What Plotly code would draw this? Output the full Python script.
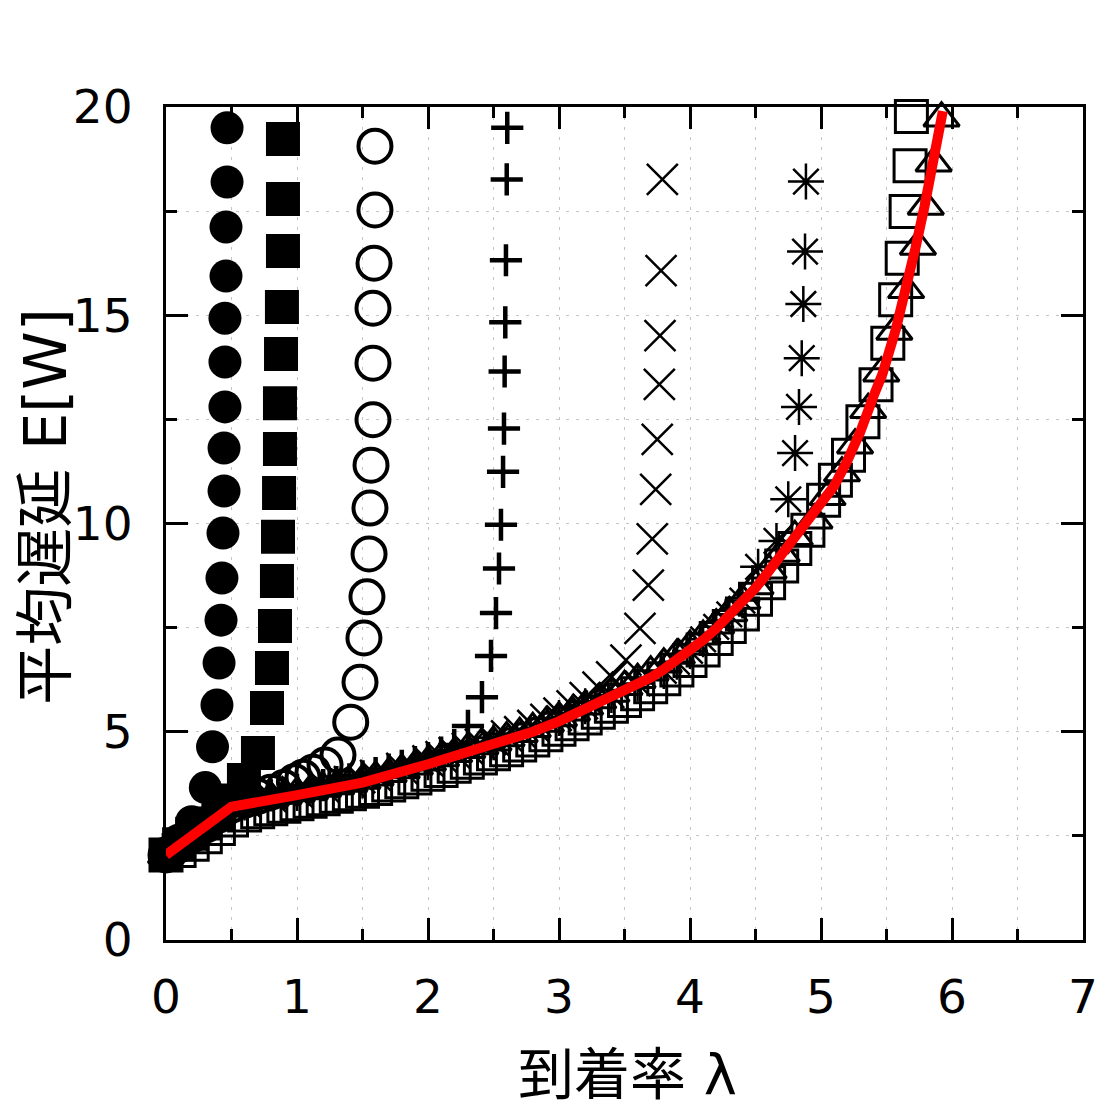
import plotly.graph_objects as go

# ---------------- data ----------------
# filled circles
fc_x = [0.0, 0.1, 0.196, 0.30, 0.355, 0.389, 0.405, 0.42, 0.427, 0.435, 0.443, 0.443, 0.45, 0.45, 0.45, 0.458, 0.458, 0.466, 0.466]
fc_y = [2.04, 2.40, 2.84, 3.66, 4.64, 5.64, 6.65, 7.68, 8.69, 9.77, 10.78, 11.81, 12.80, 13.88, 14.93, 15.94, 17.12, 18.20, 19.50]

# filled squares
fs_x = [0.0, 0.1, 0.2, 0.3, 0.4, 0.5, 0.595, 0.702, 0.771, 0.809, 0.832, 0.847, 0.855, 0.863, 0.870, 0.870, 0.878, 0.885, 0.893, 0.893, 0.893]
fs_y = [2.04, 2.30, 2.55, 2.80, 3.05, 3.35, 3.84, 4.49, 5.57, 6.53, 7.54, 8.62, 9.68, 10.73, 11.79, 12.89, 14.07, 15.20, 16.54, 17.79, 19.23]

# open circles
oc_x = [0.0, 0.1, 0.2, 0.3, 0.4, 0.5, 0.6, 0.7, 0.8, 0.9, 0.98, 1.046, 1.122, 1.214, 1.313, 1.41, 1.481, 1.511, 1.534, 1.55, 1.557, 1.565, 1.58, 1.58, 1.58, 1.588, 1.595, 1.595]
oc_y = [2.04, 2.28, 2.52, 2.76, 3.00, 3.24, 3.36, 3.45, 3.55, 3.66, 3.80, 3.91, 4.03, 4.20, 4.44, 5.23, 6.19, 7.25, 8.24, 9.27, 10.37, 11.40, 12.49, 13.85, 15.17, 16.25, 17.53, 19.06]

# plus
pl_x = [0.0, 0.1, 0.2, 0.3, 0.4, 0.5, 0.6, 0.7, 0.8, 0.9, 1.0, 1.1, 1.2, 1.3, 1.4, 1.5, 1.6, 1.7, 1.8, 1.9, 2.0, 2.1, 2.2, 2.305, 2.412, 2.481, 2.519, 2.542, 2.557, 2.573, 2.58, 2.585, 2.59, 2.595, 2.601, 2.605]
pl_y = [2.04, 2.28, 2.52, 2.76, 3.00, 3.24, 3.33, 3.40, 3.47, 3.53, 3.60, 3.66, 3.72, 3.79, 3.86, 3.93, 4.01, 4.09, 4.18, 4.27, 4.37, 4.50, 4.68, 5.14, 5.83, 6.82, 7.85, 8.92, 9.97, 11.24, 12.28, 13.65, 14.83, 16.32, 18.26, 19.50]

# x (cross)
xx_x = [0.0, 0.2, 0.4, 0.6, 0.8, 1.0, 1.2, 1.4, 1.6, 1.8, 2.0, 2.1, 2.2, 2.3, 2.4, 2.5, 2.6, 2.7, 2.8, 2.9, 3.0, 3.1, 3.2, 3.298, 3.402, 3.511, 3.618, 3.682, 3.712, 3.738, 3.75, 3.766, 3.771, 3.779, 3.789]
xx_y = [2.04, 2.52, 3.00, 3.33, 3.44, 3.56, 3.68, 3.80, 3.95, 4.12, 4.30, 4.40, 4.50, 4.60, 4.70, 4.80, 4.90, 5.00, 5.15, 5.30, 5.45, 5.62, 5.82, 6.07, 6.32, 6.72, 7.48, 8.52, 9.63, 10.82, 12.02, 13.34, 14.51, 16.07, 18.26]

# asterisk
as_x = [0.0, 0.3, 0.6, 1.0, 1.5, 2.0, 2.5, 3.0, 3.2, 3.4, 3.6, 3.8, 3.9, 4.0, 4.1, 4.2, 4.3, 4.4, 4.52, 4.66, 4.75, 4.802, 4.832, 4.853, 4.865, 4.878, 4.885]
as_y = [2.04, 2.76, 3.30, 3.53, 3.83, 4.27, 4.75, 5.33, 5.61, 5.88, 6.16, 6.46, 6.68, 6.94, 7.22, 7.52, 7.82, 8.15, 8.96, 9.58, 10.58, 11.69, 12.80, 13.97, 15.27, 16.53, 18.21]

# open squares
os_x = [0.0, 0.1, 0.2, 0.3, 0.4, 0.5, 0.6, 0.7, 0.8, 0.9, 1.0, 1.1, 1.2, 1.3, 1.4, 1.5, 1.6, 1.7, 1.8, 1.9,
        2.0, 2.1, 2.2, 2.3, 2.4, 2.5, 2.6, 2.7, 2.8, 2.9, 3.0, 3.1, 3.2, 3.3, 3.4, 3.5, 3.6, 3.7, 3.8, 3.9,
        4.0, 4.1, 4.2, 4.3, 4.4, 4.5, 4.6, 4.7, 4.8,
        4.90, 5.02, 5.11, 5.21, 5.32, 5.42, 5.51, 5.57, 5.62, 5.65, 5.68, 5.69]
os_y = [2.04, 2.15, 2.30, 2.48, 2.68, 2.88, 3.00, 3.08, 3.15, 3.21, 3.27, 3.33, 3.39, 3.45, 3.51, 3.57, 3.64, 3.72, 3.80, 3.89,
        3.98, 4.07, 4.17, 4.27, 4.37, 4.47, 4.57, 4.68, 4.80, 4.93, 5.06, 5.19, 5.33, 5.47, 5.61, 5.75, 5.91, 6.08, 6.27, 6.48,
        6.71, 6.96, 7.24, 7.53, 7.83, 8.18, 8.58, 8.98, 9.40,
        9.84, 10.56, 11.04, 11.64, 12.44, 13.33, 14.33, 15.37, 16.37, 17.49, 18.59, 19.77]

# open triangles
ot_x = [0.0, 0.1, 0.2, 0.3, 0.4, 0.5, 0.6, 0.7, 0.8, 0.9, 1.0, 1.1, 1.2, 1.3, 1.4, 1.5, 1.6, 1.7, 1.8, 1.9,
        2.0, 2.1, 2.2, 2.3, 2.4, 2.5, 2.6, 2.7, 2.8, 2.9, 3.0, 3.1, 3.2, 3.3, 3.4, 3.5, 3.6, 3.7, 3.8, 3.9,
        4.0, 4.1, 4.2, 4.3, 4.4, 4.5, 4.6, 4.7, 4.8,
        4.95, 5.05, 5.16, 5.26, 5.36, 5.46, 5.56, 5.65, 5.74, 5.80, 5.86, 5.92]
ot_y = [2.04, 2.30, 2.55, 2.80, 3.02, 3.22, 3.30, 3.36, 3.42, 3.47, 3.53, 3.58, 3.64, 3.70, 3.76, 3.83, 3.91, 3.99, 4.08, 4.17,
        4.27, 4.37, 4.47, 4.57, 4.66, 4.75, 4.85, 4.95, 5.07, 5.20, 5.33, 5.47, 5.61, 5.76, 5.92, 6.08, 6.25, 6.43, 6.62, 6.83,
        7.05, 7.29, 7.56, 7.85, 8.15, 8.50, 8.88, 9.28, 9.68,
        10.08, 10.64, 11.21, 11.88, 12.73, 13.61, 14.61, 15.61, 16.65, 17.61, 18.65, 19.73]

# theoretical curve (red)
red_x = [0.0, 0.5, 1.0, 1.5, 2.0, 2.5, 2.8, 3.0, 3.3, 3.5, 3.6, 3.7, 3.8, 3.9, 4.0, 4.1, 4.2, 4.3, 4.4, 4.5,
         4.6, 4.7, 4.8, 4.9, 5.0, 5.1, 5.2, 5.3, 5.4, 5.47, 5.57, 5.65, 5.72, 5.79, 5.87, 5.93]
red_y = [2.04, 3.20, 3.48, 3.78, 4.22, 4.70, 5.00, 5.25, 5.68, 5.96, 6.12, 6.30, 6.50, 6.72, 6.95, 7.20, 7.48, 7.78, 8.10, 8.45,
         8.85, 9.25, 9.65, 10.05, 10.42, 10.90, 11.50, 12.20, 13.05, 13.60, 14.65, 15.60, 16.60, 17.61, 18.81, 19.90]

x_ticks = [0, 1, 2, 3, 4, 5, 6, 7]
y_ticks = [0, 5, 10, 15, 20]

# ---------------- figure ----------------
fig = go.Figure()

def add(x, y, symbol, size, lw=0):
    fig.add_trace(go.Scatter(
        x=x, y=y, mode="markers", cliponaxis=False, showlegend=False, hoverinfo="skip",
        marker=dict(symbol=symbol, size=size, color="black",
                    line=dict(color="black", width=lw))))

add(fc_x, fc_y, "circle", 33)
add(fs_x, fs_y, "square", 34)
add(oc_x, oc_y, "circle-open", 33, 4)
add(pl_x, pl_y, "cross-thin-open", 23, 4.5)
add(xx_x, xx_y, "x-thin-open", 31, 2.5)
add(as_x, as_y, "asterisk-open", 30, 2.5)
add(os_x, os_y, "square-open", 32, 3)
add(ot_x, ot_y, "triangle-up-open", 31, 3)

fig.add_trace(go.Scatter(x=red_x, y=red_y, mode="lines", cliponaxis=False, showlegend=False, hoverinfo="skip",
                         line=dict(color="#ff0000", width=10)))

grid = dict(gridcolor="#c4c4c4", griddash="3px,7px", gridwidth=1)
tick_font = dict(family="DejaVu Sans, sans-serif", size=47, color="black")
axis_common = dict(
    showline=True, linecolor="black", linewidth=3, mirror="allticks",
    ticks="inside", ticklen=22, tickwidth=3, tickcolor="black",
    showgrid=True, zeroline=False, automargin=False,
    tickfont=tick_font,
    **grid,
)

fig.update_xaxes(range=[0, 7], tickvals=x_ticks, ticktext=[str(v) for v in x_ticks],
                 ticklabelstandoff=14,
                 minor=dict(dtick=0.5, ticks="inside", ticklen=11, tickwidth=3, tickcolor="black",
                            showgrid=True, **grid),
                 **axis_common)
fig.update_yaxes(range=[0, 20], tickvals=y_ticks, ticktext=[str(v) for v in y_ticks],
                 ticklabelstandoff=21,
                 minor=dict(dtick=2.5, ticks="inside", ticklen=11, tickwidth=3, tickcolor="black",
                            showgrid=True, **grid),
                 **axis_common)

fig.add_annotation(text="平均遅延 E[W]", xref="paper", yref="paper", x=-0.131, y=0.52,
                   textangle=-90, showarrow=False,
                   font=dict(family="DejaVu Sans, Noto Sans CJK JP, sans-serif", size=59, color="black"),
                   xanchor="center", yanchor="middle")
fig.add_annotation(text="到着率 λ", xref="paper", yref="paper", x=0.503, y=-0.203,
                   showarrow=False,
                   font=dict(family="DejaVu Sans, Noto Sans CJK JP, sans-serif", size=56, color="black"),
                   xanchor="center", yanchor="bottom")

fig.update_layout(
    width=1105, height=1108,
    margin=dict(l=166, r=22, t=107, b=168),
    paper_bgcolor="white", plot_bgcolor="white",
)

fig.write_html("out.html", config={"displayModeBar": False},
               post_script="document.body.style.margin='0px';")
